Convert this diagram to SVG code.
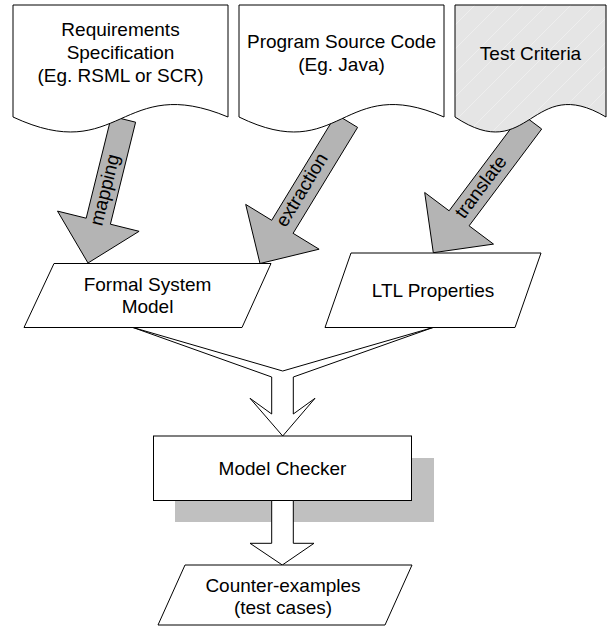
<svg xmlns="http://www.w3.org/2000/svg" width="608" height="632" viewBox="0 0 608 632">
<style>
  text { font-family: "Liberation Sans", Arial, sans-serif; font-size: 19px; fill: #000; text-anchor: middle; }
  .doc { fill: #fff; stroke: #000; stroke-width: 1; }
  .shape { fill: #fff; stroke: #000; stroke-width: 1; }
  .big { fill: #b4b4b4; stroke: #000; stroke-width: 1; stroke-linejoin: miter; }
  .hollow { fill: #fff; stroke: #000; stroke-width: 1; }
</style>
<defs>
  <pattern id="hatch" patternUnits="userSpaceOnUse" width="24" height="24">
    <rect width="24" height="24" fill="#e5e5e5"/>
    <path d="M0,24 L24,0" stroke="#f0f0f0" stroke-width="0.8"/>
  </pattern>
</defs>
<rect width="608" height="632" fill="#fff"/>

<g id="connectors">
  <g id="arrow-mapping">
    <polygon class="big" points="111.4,116.2 86.2,218.2 57.5,211.1 88,263 139.1,231.3 110.4,224.2 135.6,122.2"/>
    <text transform="translate(105,190) rotate(-76.1)" x="0" y="6">mapping</text>
  </g>
  <g id="arrow-extraction">
    <polygon class="big" points="336.2,114.4 271.7,220.3 245.7,204.4 260,263.5 319.1,249.2 293.1,233.3 357.6,127.4"/>
    <text transform="translate(302,190) rotate(-58.7)" x="0" y="6">extraction</text>
  </g>
  <g id="arrow-translate">
    <polygon class="big" points="521.7,114 449.1,210.8 424.7,192.5 433.3,252.7 493.5,244.1 469.1,225.8 541.7,129"/>
    <text transform="translate(481,187) rotate(-53.1)" x="0" y="6">translate</text>
  </g>
</g>

<g id="doc-requirements">
  <path class="doc" d="M13,5 H228 V117 C120.5,72 120.5,167 13,117 Z"/>
  <text x="120.5" y="36">Requirements</text>
  <text x="120.5" y="59">Specification</text>
  <text x="120.5" y="82">(Eg. RSML or SCR)</text>
</g>
<g id="doc-source">
  <path class="doc" d="M239,5 H444 V117 C341.5,72 341.5,167 239,117 Z"/>
  <text x="341.5" y="48">Program Source Code</text>
  <text x="341.5" y="71">(Eg. Java)</text>
</g>
<g id="doc-criteria">
  <path d="M455,5 H606 V117 C530.5,72 530.5,167 455,117 Z" fill="url(#hatch)" stroke="#000" stroke-width="1"/>
  <text x="530.5" y="60">Test Criteria</text>
</g>

<g id="node-fsm">
  <polygon class="shape" points="54,263.5 271,263.5 242,327.5 24,327.5"/>
  <text x="147.5" y="291">Formal System</text>
  <text x="147.5" y="313">Model</text>
</g>
<g id="node-ltl">
  <polygon class="shape" points="351,253 541,253 515,327.5 325,327.5"/>
  <text x="433" y="297">LTL Properties</text>
</g>

<g id="connectors-lower">
  <polygon class="hollow" points="133,327.5 282.7,371 433,327.5 293.3,377 293.3,414 315,398.3 282.7,436 250,398.3 271.7,414 271.7,377"/>
</g>

<g id="node-model-checker">
  <rect x="175" y="458" width="259" height="64" fill="#c0c0c0"/>
  <rect class="shape" x="153.5" y="436" width="258" height="64.5"/>
  <text x="282.5" y="475">Model Checker</text>
</g>

<g id="connector-down">
  <polygon class="hollow" points="271.7,500.5 271.7,543.3 250,543.3 282.3,565 314,543.3 293.3,543.3 293.3,500.5"/>
</g>

<g id="node-counter">
  <polygon class="shape" points="185,565 412,565 385,625 158,625"/>
  <text x="283" y="592">Counter-examples</text>
  <text x="283" y="614">(test cases)</text>
</g>
</svg>
